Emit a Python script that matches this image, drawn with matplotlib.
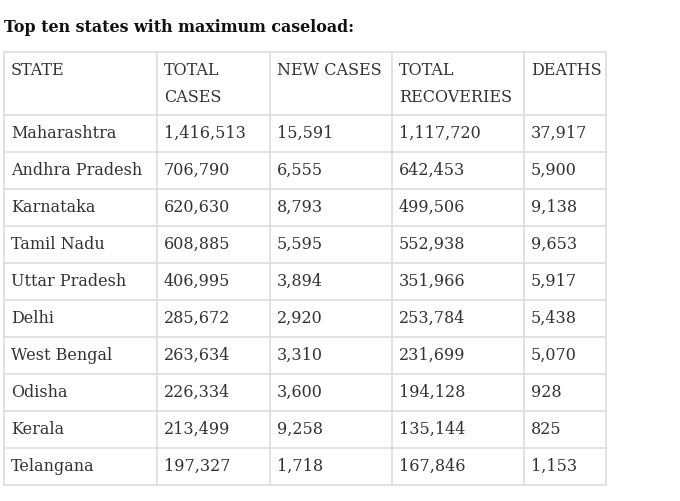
import matplotlib.pyplot as plt

# datos de la tabla
titulo = 'Top ten states with maximum caseload:'
encabezados = ['STATE', 'TOTAL\nCASES', 'NEW CASES', 'TOTAL\nRECOVERIES', 'DEATHS']
estados = ['Maharashtra', 'Andhra Pradesh', 'Karnataka', 'Tamil Nadu', 'Uttar Pradesh',
           'Delhi', 'West Bengal', 'Odisha', 'Kerala', 'Telangana']
total_casos = ['1,416,513', '706,790', '620,630', '608,885', '406,995',
               '285,672', '263,634', '226,334', '213,499', '197,327']
casos_nuevos = ['15,591', '6,555', '8,793', '5,595', '3,894',
                '2,920', '3,310', '3,600', '9,258', '1,718']
recuperados = ['1,117,720', '642,453', '499,506', '552,938', '351,966',
               '253,784', '231,699', '194,128', '135,144', '167,846']
muertes = ['37,917', '5,900', '9,138', '9,653', '5,917',
           '5,438', '5,070', '928', '825', '1,153']

# geometria en pixeles
cols_x = [4, 157, 270, 392, 524, 606]
y_top = 52
y_head = 115
alto_fila = 37
color_linea = '#dddddd'
color_texto = '#333333'
fuente = 'DejaVu Serif'
tam = 11.5

fig = plt.figure(figsize=(6.8, 5.01), dpi=100)
ax = fig.add_axes([0, 0, 1, 1])
ax.set_xlim(0, 680)
ax.set_ylim(501, 0)
ax.axis('off')

ax.text(4, 27, titulo, fontsize=11.4, fontweight='bold', family=fuente,
        color='#111111', va='center', ha='left')

filas = list(zip(estados, total_casos, casos_nuevos, recuperados, muertes))
y_bottom = y_head + alto_fila * len(filas)

# lineas horizontales
ys = [y_top, y_head] + [y_head + alto_fila * (i + 1) for i in range(len(filas))]
for y in ys:
    ax.plot([cols_x[0], cols_x[-1]], [y, y], color=color_linea, lw=1.2)
# lineas verticales
for x in cols_x:
    ax.plot([x, x], [y_top, y_bottom], color=color_linea, lw=1.2)

# encabezado
for j, h in enumerate(encabezados):
    ax.text(cols_x[j] + 7, 62, h, fontsize=tam, family=fuente, color=color_texto,
            va='top', ha='left', linespacing=1.75)

# filas
for i, fila in enumerate(filas):
    yc = y_head + alto_fila * i + alto_fila / 2
    for j, val in enumerate(fila):
        ax.text(cols_x[j] + 7, yc, val, fontsize=tam, family=fuente, color=color_texto,
                va='center', ha='left')

plt.savefig('out.png', dpi=100)
